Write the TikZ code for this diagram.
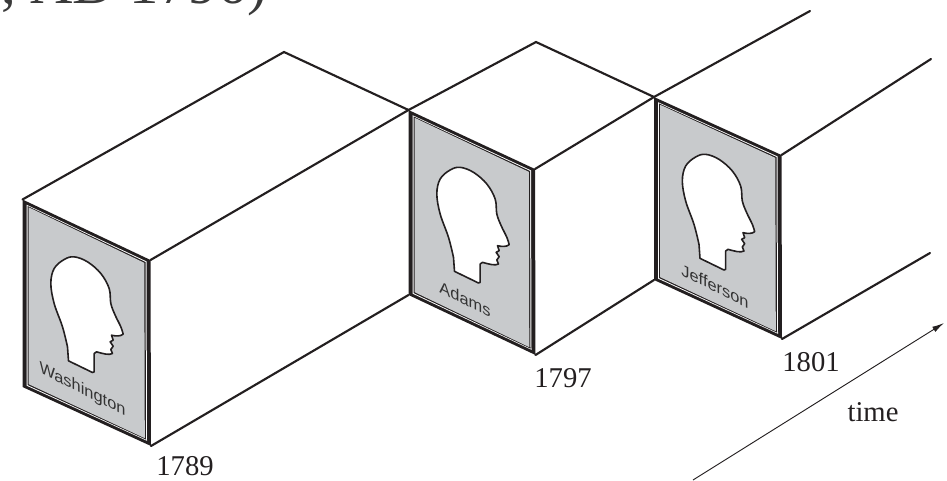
\documentclass[tikz,border=0pt]{standalone}
\usepackage{fontspec}
\usetikzlibrary{calc,arrows.meta}
\setmainfont{Liberation Serif}
\setsansfont{Liberation Sans}
\definecolor{panelgrey}{HTML}{C8CACC}
\definecolor{inkdark}{HTML}{231F20}
\definecolor{headtext}{HTML}{3A3A3A}
\tikzset{
  edge/.style={draw=inkdark,line width=1.6pt,line cap=round,line join=miter},
  year/.style={font=\fontsize{21.5}{22}\selectfont,text=inkdark,inner sep=0pt},
  portrait/.style={font=\sffamily\fontsize{12.3}{13}\selectfont,text=black!80,inner sep=0pt,yslant=-0.5,transform shape},
  headline/.style={draw=inkdark,line width=1.2pt,fill=white,line join=round},
}
\newcommand{\panelframe}[4]{%
  \fill[inkdark] (#1) -- (#2) -- (#3) -- (#4) -- cycle;
  \fill[white] ($(#1)+(4,5.2)$) -- ($(#2)+(-4,1.4)$) -- ($(#3)+(-4,-5.2)$) -- ($(#4)+(4,-1.4)$) -- cycle;
  \fill[inkdark] ($(#1)+(5,6.4)$) -- ($(#2)+(-5,2)$) -- ($(#3)+(-5,-6.4)$) -- ($(#4)+(5,-2)$) -- cycle;
  \fill[panelgrey] ($(#1)+(6.2,7.8)$) -- ($(#2)+(-6.2,2.8)$) -- ($(#3)+(-6.2,-7.8)$) -- ($(#4)+(6.2,-2.8)$) -- cycle;
}
\newcommand{\headshape}[1]{%
  \begin{scope}[shift={(#1)},x=0.25pt,y=-0.25pt]
  \draw[headline] (138,484) -- plot[smooth,tension=.6] coordinates {(135,442) (120,382) (95,312) (85,252) (95,207) (125,180) (155,172) (195,187) (235,222) (260,267) (265,312) (278,347) (295,382) (302,404)}
   .. controls (295,411) and (278,410) .. (267,407)
   -- (272,422) -- (263,427) -- (272,440) -- (265,450) -- (270,462)
   .. controls (260,468) and (240,462) .. (222,457)
   -- (215,462) -- (215,517) -- (210,519) -- cycle;
  \end{scope}
}
\begin{document}
\begin{tikzpicture}[x=0.75pt,y=-0.75pt]
\useasboundingbox (0,0) rectangle (947,480);
\clip (0,0) rectangle (947,480);
\coordinate (a1) at (22.5,199.5);
\coordinate (b1) at (150.5,260);
\coordinate (c1) at (151,446);
\coordinate (d1) at (22.5,387);
\coordinate (t1) at (284,52);
\coordinate (a2) at (408.5,110);
\coordinate (b2) at (535,169);
\coordinate (c2) at (535.5,355);
\coordinate (d2) at (408.5,295);
\coordinate (t2) at (536,42);
\coordinate (a3) at (654,97);
\coordinate (b3) at (781.5,155);
\coordinate (c3) at (782,339);
\coordinate (d3) at (654,280);
\coordinate (e3) at (810,11);
\coordinate (f3) at (931,59);
\coordinate (g3) at (930,253);
\coordinate (s) at (693,480);
\coordinate (p) at (944,323);
\node[anchor=base west,inner sep=0pt,text=headtext,font=\fontsize{44}{44}\selectfont] (title) at (1,3) {, AD 1796)};
\draw[edge] (a1) -- (t1) -- (a2);
\draw[edge] (b1) -- (a2);
\draw[edge] (c1) -- (d2);
\draw[edge] (a2) -- (t2) -- (a3);
\draw[edge] (b2) -- (a3);
\draw[edge] (c2) -- (d3);
\draw[edge] (a3) -- (e3);
\draw[edge] (b3) -- (f3);
\draw[edge] (c3) -- (g3);
\panelframe{a1}{b1}{c1}{d1}
\panelframe{a2}{b2}{c2}{d2}
\panelframe{a3}{b3}{c3}{d3}
\headshape{a1}
\headshape{a2}
\headshape{a3}
\node[portrait] (n1) at (82.5,390) {Washington};
\node[portrait] (n2) at (465,299) {Adams};
\node[portrait] (n3) at (715,286) {Jefferson};
\draw[draw=inkdark,line width=0.7pt,-{Latex[length=9pt,width=4.5pt]}] (s) -- (p);
\node[year] (y1) at (185,466) {1789};
\node[year] (y2) at (563,378) {1797};
\node[year] (y3) at (811,362) {1801};
\node[year] (y4) at (873,412) {time};
\end{tikzpicture}
\end{document}
